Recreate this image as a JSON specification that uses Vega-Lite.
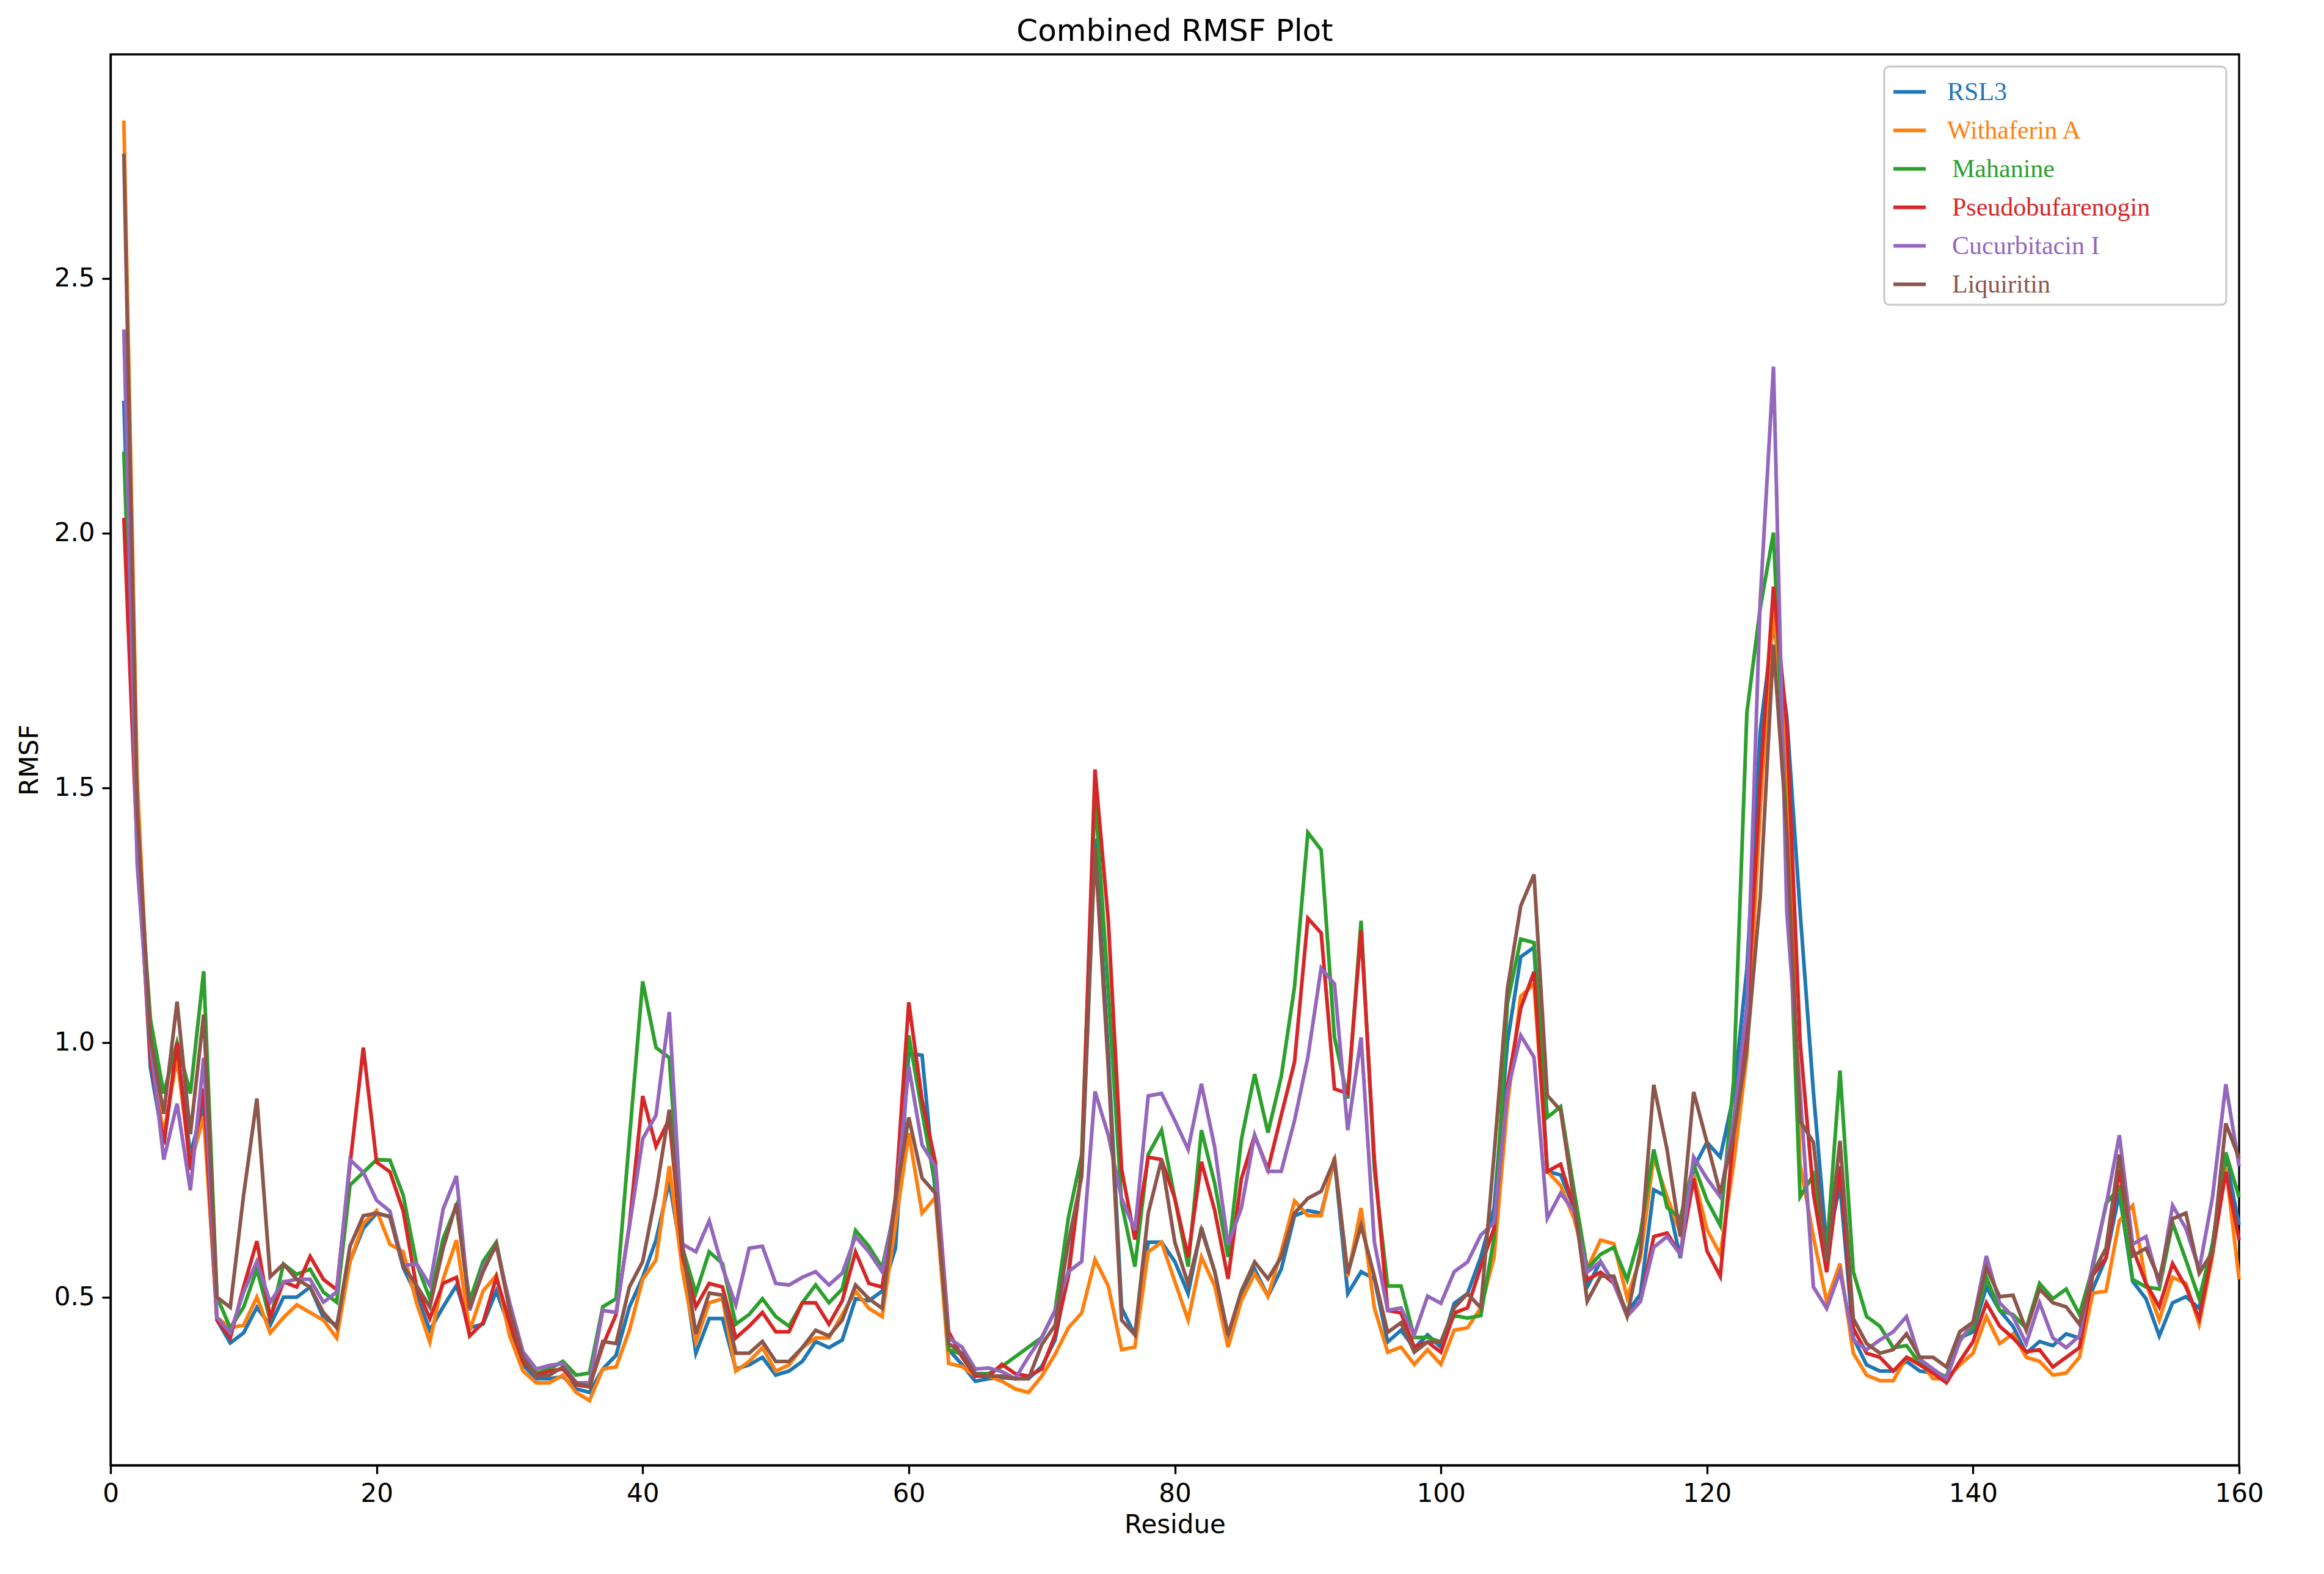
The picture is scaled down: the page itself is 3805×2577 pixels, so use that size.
{
  "$schema": "https://vega.github.io/schema/vega-lite/v6.json",
  "width": 3485,
  "height": 2310,
  "autosize": {"type": "none"},
  "padding": {"left": 181, "top": 89, "right": 139, "bottom": 178},
  "background": "white",
  "title": {"text": "Combined RMSF Plot", "fontSize": 50, "font": "DejaVu Sans", "fontWeight": "normal", "color": "black", "offset": 12, "anchor": "middle"},
  "datasets": {
    "RSL3": [
      {"r":1,"v":2.26},{"r":2,"v":1.42},{"r":3,"v":0.95},{"r":4,"v":0.80},{"r":5,"v":0.99},{"r":6,"v":0.78},{"r":7,"v":0.88},{"r":8,"v":0.455},{"r":9,"v":0.41},{"r":10,"v":0.43},
      {"r":11,"v":0.48},{"r":12,"v":0.445},{"r":13,"v":0.50},{"r":14,"v":0.50},{"r":15,"v":0.52},{"r":16,"v":0.46},{"r":17,"v":0.445},{"r":18,"v":0.57},{"r":19,"v":0.635},{"r":20,"v":0.665},
      {"r":21,"v":0.658},{"r":22,"v":0.558},{"r":23,"v":0.504},{"r":24,"v":0.435},{"r":25,"v":0.481},{"r":26,"v":0.523},{"r":27,"v":0.44},{"r":28,"v":0.447},{"r":29,"v":0.512},{"r":30,"v":0.44},
      {"r":31,"v":0.367},{"r":32,"v":0.34},{"r":33,"v":0.34},{"r":34,"v":0.344},{"r":35,"v":0.32},{"r":36,"v":0.313},{"r":37,"v":0.359},{"r":38,"v":0.386},{"r":39,"v":0.481},{"r":40,"v":0.539},
      {"r":41,"v":0.612},{"r":42,"v":0.727},{"r":43,"v":0.57},{"r":44,"v":0.39},{"r":45,"v":0.458},{"r":46,"v":0.458},{"r":47,"v":0.359},{"r":48,"v":0.367},{"r":49,"v":0.382},{"r":50,"v":0.347},
      {"r":51,"v":0.355},{"r":52,"v":0.374},{"r":53,"v":0.413},{"r":54,"v":0.401},{"r":55,"v":0.416},{"r":56,"v":0.497},{"r":57,"v":0.493},{"r":58,"v":0.512},{"r":59,"v":0.596},{"r":60,"v":0.979},
      {"r":61,"v":0.975},{"r":62,"v":0.704},{"r":63,"v":0.397},{"r":64,"v":0.368},{"r":65,"v":0.335},{"r":66,"v":0.34},{"r":67,"v":0.342},{"r":68,"v":0.34},{"r":69,"v":0.34},{"r":70,"v":0.364},
      {"r":71,"v":0.416},{"r":72,"v":0.55},{"r":73,"v":0.75},{"r":74,"v":1.40},{"r":75,"v":0.98},{"r":76,"v":0.479},{"r":77,"v":0.426},{"r":78,"v":0.608},{"r":79,"v":0.608},{"r":80,"v":0.57},
      {"r":81,"v":0.507},{"r":82,"v":0.637},{"r":83,"v":0.55},{"r":84,"v":0.426},{"r":85,"v":0.502},{"r":86,"v":0.555},{"r":87,"v":0.502},{"r":88,"v":0.555},{"r":89,"v":0.66},{"r":90,"v":0.67},
      {"r":91,"v":0.665},{"r":92,"v":0.77},{"r":93,"v":0.507},{"r":94,"v":0.55},{"r":95,"v":0.536},{"r":96,"v":0.412},{"r":97,"v":0.435},{"r":98,"v":0.40},{"r":99,"v":0.426},{"r":100,"v":0.402},
      {"r":101,"v":0.488},{"r":102,"v":0.507},{"r":103,"v":0.579},{"r":104,"v":0.675},{"r":105,"v":1.0},{"r":106,"v":1.168},{"r":107,"v":1.187},{"r":108,"v":0.747},{"r":109,"v":0.74},{"r":110,"v":0.676},
      {"r":111,"v":0.52},{"r":112,"v":0.57},{"r":113,"v":0.527},{"r":114,"v":0.47},{"r":115,"v":0.506},{"r":116,"v":0.711},{"r":117,"v":0.697},{"r":118,"v":0.577},{"r":119,"v":0.754},{"r":120,"v":0.804},
      {"r":121,"v":0.775},{"r":122,"v":0.896},{"r":123,"v":1.144},{"r":124,"v":1.611},{"r":125,"v":1.824},{"r":126,"v":1.64},{"r":127,"v":1.257},{"r":128,"v":0.903},{"r":129,"v":0.598},{"r":130,"v":0.72},
      {"r":131,"v":0.42},{"r":132,"v":0.367},{"r":133,"v":0.355},{"r":134,"v":0.355},{"r":135,"v":0.374},{"r":136,"v":0.355},{"r":137,"v":0.351},{"r":138,"v":0.34},{"r":139,"v":0.42},{"r":140,"v":0.432},
      {"r":141,"v":0.52},{"r":142,"v":0.474},{"r":143,"v":0.443},{"r":144,"v":0.39},{"r":145,"v":0.413},{"r":146,"v":0.405},{"r":147,"v":0.428},{"r":148,"v":0.42},{"r":149,"v":0.516},{"r":150,"v":0.577},
      {"r":151,"v":0.704},{"r":152,"v":0.531},{"r":153,"v":0.497},{"r":154,"v":0.424},{"r":155,"v":0.489},{"r":156,"v":0.501},{"r":157,"v":0.478},{"r":158,"v":0.604},{"r":159,"v":0.773},{"r":160,"v":0.642}
    ],
    "Withaferin A": [
      {"r":1,"v":2.81},{"r":2,"v":1.52},{"r":3,"v":0.97},{"r":4,"v":0.82},{"r":5,"v":0.97},{"r":6,"v":0.76},{"r":7,"v":0.855},{"r":8,"v":0.46},{"r":9,"v":0.44},{"r":10,"v":0.445},
      {"r":11,"v":0.50},{"r":12,"v":0.43},{"r":13,"v":0.46},{"r":14,"v":0.485},{"r":15,"v":0.47},{"r":16,"v":0.455},{"r":17,"v":0.42},{"r":18,"v":0.57},{"r":19,"v":0.645},{"r":20,"v":0.67},
      {"r":21,"v":0.604},{"r":22,"v":0.589},{"r":23,"v":0.489},{"r":24,"v":0.412},{"r":25,"v":0.535},{"r":26,"v":0.612},{"r":27,"v":0.435},{"r":28,"v":0.512},{"r":29,"v":0.543},{"r":30,"v":0.424},
      {"r":31,"v":0.355},{"r":32,"v":0.332},{"r":33,"v":0.332},{"r":34,"v":0.347},{"r":35,"v":0.313},{"r":36,"v":0.297},{"r":37,"v":0.359},{"r":38,"v":0.363},{"r":39,"v":0.435},{"r":40,"v":0.535},
      {"r":41,"v":0.573},{"r":42,"v":0.757},{"r":43,"v":0.55},{"r":44,"v":0.412},{"r":45,"v":0.489},{"r":46,"v":0.497},{"r":47,"v":0.355},{"r":48,"v":0.374},{"r":49,"v":0.401},{"r":50,"v":0.355},
      {"r":51,"v":0.367},{"r":52,"v":0.401},{"r":53,"v":0.42},{"r":54,"v":0.42},{"r":55,"v":0.466},{"r":56,"v":0.512},{"r":57,"v":0.478},{"r":58,"v":0.462},{"r":59,"v":0.642},{"r":60,"v":0.822},
      {"r":61,"v":0.665},{"r":62,"v":0.696},{"r":63,"v":0.37},{"r":64,"v":0.364},{"r":65,"v":0.345},{"r":66,"v":0.345},{"r":67,"v":0.335},{"r":68,"v":0.32},{"r":69,"v":0.313},{"r":70,"v":0.345},
      {"r":71,"v":0.388},{"r":72,"v":0.44},{"r":73,"v":0.469},{"r":74,"v":0.574},{"r":75,"v":0.522},{"r":76,"v":0.397},{"r":77,"v":0.402},{"r":78,"v":0.589},{"r":79,"v":0.608},{"r":80,"v":0.531},
      {"r":81,"v":0.455},{"r":82,"v":0.579},{"r":83,"v":0.522},{"r":84,"v":0.402},{"r":85,"v":0.493},{"r":86,"v":0.546},{"r":87,"v":0.502},{"r":88,"v":0.589},{"r":89,"v":0.689},{"r":90,"v":0.66},
      {"r":91,"v":0.66},{"r":92,"v":0.775},{"r":93,"v":0.541},{"r":94,"v":0.675},{"r":95,"v":0.479},{"r":96,"v":0.392},{"r":97,"v":0.402},{"r":98,"v":0.368},{"r":99,"v":0.397},{"r":100,"v":0.368},
      {"r":101,"v":0.435},{"r":102,"v":0.44},{"r":103,"v":0.479},{"r":104,"v":0.579},{"r":105,"v":0.876},{"r":106,"v":1.091},{"r":107,"v":1.115},{"r":108,"v":0.747},{"r":109,"v":0.719},{"r":110,"v":0.655},
      {"r":111,"v":0.556},{"r":112,"v":0.612},{"r":113,"v":0.605},{"r":114,"v":0.499},{"r":115,"v":0.577},{"r":116,"v":0.775},{"r":117,"v":0.697},{"r":118,"v":0.626},{"r":119,"v":0.74},{"r":120,"v":0.633},
      {"r":121,"v":0.584},{"r":122,"v":0.761},{"r":123,"v":0.974},{"r":124,"v":1.455},{"r":125,"v":1.852},{"r":126,"v":1.55},{"r":127,"v":0.761},{"r":128,"v":0.619},{"r":129,"v":0.492},{"r":130,"v":0.566},
      {"r":131,"v":0.39},{"r":132,"v":0.347},{"r":133,"v":0.336},{"r":134,"v":0.336},{"r":135,"v":0.382},{"r":136,"v":0.374},{"r":137,"v":0.34},{"r":138,"v":0.34},{"r":139,"v":0.367},{"r":140,"v":0.39},
      {"r":141,"v":0.462},{"r":142,"v":0.409},{"r":143,"v":0.428},{"r":144,"v":0.382},{"r":145,"v":0.374},{"r":146,"v":0.347},{"r":147,"v":0.351},{"r":148,"v":0.382},{"r":149,"v":0.508},{"r":150,"v":0.512},
      {"r":151,"v":0.65},{"r":152,"v":0.68},{"r":153,"v":0.527},{"r":154,"v":0.455},{"r":155,"v":0.539},{"r":156,"v":0.527},{"r":157,"v":0.447},{"r":158,"v":0.581},{"r":159,"v":0.757},{"r":160,"v":0.535}
    ],
    "Mahanine": [
      {"r":1,"v":2.16},{"r":2,"v":1.40},{"r":3,"v":1.045},{"r":4,"v":0.90},{"r":5,"v":1.0},{"r":6,"v":0.90},{"r":7,"v":1.14},{"r":8,"v":0.50},{"r":9,"v":0.44},{"r":10,"v":0.48},
      {"r":11,"v":0.555},{"r":12,"v":0.455},{"r":13,"v":0.565},{"r":14,"v":0.545},{"r":15,"v":0.555},{"r":16,"v":0.51},{"r":17,"v":0.49},{"r":18,"v":0.72},{"r":19,"v":0.745},{"r":20,"v":0.77},
      {"r":21,"v":0.769},{"r":22,"v":0.70},{"r":23,"v":0.566},{"r":24,"v":0.497},{"r":25,"v":0.615},{"r":26,"v":0.68},{"r":27,"v":0.493},{"r":28,"v":0.57},{"r":29,"v":0.608},{"r":30,"v":0.481},
      {"r":31,"v":0.39},{"r":32,"v":0.351},{"r":33,"v":0.359},{"r":34,"v":0.374},{"r":35,"v":0.347},{"r":36,"v":0.351},{"r":37,"v":0.481},{"r":38,"v":0.497},{"r":39,"v":0.811},{"r":40,"v":1.12},
      {"r":41,"v":0.99},{"r":42,"v":0.97},{"r":43,"v":0.596},{"r":44,"v":0.508},{"r":45,"v":0.589},{"r":46,"v":0.566},{"r":47,"v":0.447},{"r":48,"v":0.466},{"r":49,"v":0.497},{"r":50,"v":0.462},
      {"r":51,"v":0.443},{"r":52,"v":0.489},{"r":53,"v":0.524},{"r":54,"v":0.489},{"r":55,"v":0.516},{"r":56,"v":0.631},{"r":57,"v":0.60},{"r":58,"v":0.558},{"r":59,"v":0.68},{"r":60,"v":1.014},
      {"r":61,"v":0.864},{"r":62,"v":0.719},{"r":63,"v":0.397},{"r":64,"v":0.388},{"r":65,"v":0.35},{"r":66,"v":0.35},{"r":67,"v":0.364},{"r":68,"v":0.383},{"r":69,"v":0.402},{"r":70,"v":0.421},
      {"r":71,"v":0.474},{"r":72,"v":0.656},{"r":73,"v":0.78},{"r":74,"v":1.488},{"r":75,"v":1.10},{"r":76,"v":0.684},{"r":77,"v":0.56},{"r":78,"v":0.78},{"r":79,"v":0.828},{"r":80,"v":0.694},
      {"r":81,"v":0.56},{"r":82,"v":0.828},{"r":83,"v":0.723},{"r":84,"v":0.579},{"r":85,"v":0.809},{"r":86,"v":0.938},{"r":87,"v":0.823},{"r":88,"v":0.933},{"r":89,"v":1.11},{"r":90,"v":1.412},
      {"r":91,"v":1.378},{"r":92,"v":1.01},{"r":93,"v":0.89},{"r":94,"v":1.239},{"r":95,"v":0.751},{"r":96,"v":0.522},{"r":97,"v":0.522},{"r":98,"v":0.421},{"r":99,"v":0.421},{"r":100,"v":0.412},
      {"r":101,"v":0.464},{"r":102,"v":0.459},{"r":103,"v":0.464},{"r":104,"v":0.617},{"r":105,"v":1.077},{"r":106,"v":1.203},{"r":107,"v":1.196},{"r":108,"v":0.853},{"r":109,"v":0.874},{"r":110,"v":0.711},
      {"r":111,"v":0.556},{"r":112,"v":0.584},{"r":113,"v":0.598},{"r":114,"v":0.534},{"r":115,"v":0.626},{"r":116,"v":0.79},{"r":117,"v":0.676},{"r":118,"v":0.655},{"r":119,"v":0.761},{"r":120,"v":0.69},
      {"r":121,"v":0.641},{"r":122,"v":0.924},{"r":123,"v":1.647},{"r":124,"v":1.852},{"r":125,"v":2.001},{"r":126,"v":1.40},{"r":127,"v":0.697},{"r":128,"v":0.74},{"r":129,"v":0.591},{"r":130,"v":0.945},
      {"r":131,"v":0.55},{"r":132,"v":0.462},{"r":133,"v":0.443},{"r":134,"v":0.401},{"r":135,"v":0.405},{"r":136,"v":0.37},{"r":137,"v":0.355},{"r":138,"v":0.344},{"r":139,"v":0.42},{"r":140,"v":0.439},
      {"r":141,"v":0.539},{"r":142,"v":0.474},{"r":143,"v":0.466},{"r":144,"v":0.439},{"r":145,"v":0.527},{"r":146,"v":0.497},{"r":147,"v":0.516},{"r":148,"v":0.466},{"r":149,"v":0.558},{"r":150,"v":0.684},
      {"r":151,"v":0.715},{"r":152,"v":0.535},{"r":153,"v":0.52},{"r":154,"v":0.516},{"r":155,"v":0.646},{"r":156,"v":0.573},{"r":157,"v":0.497},{"r":158,"v":0.604},{"r":159,"v":0.784},{"r":160,"v":0.696}
    ],
    "Pseudobufarenogin": [
      {"r":1,"v":2.03},{"r":2,"v":1.38},{"r":3,"v":0.97},{"r":4,"v":0.80},{"r":5,"v":1.0},{"r":6,"v":0.75},{"r":7,"v":0.91},{"r":8,"v":0.455},{"r":9,"v":0.42},{"r":10,"v":0.52},
      {"r":11,"v":0.61},{"r":12,"v":0.46},{"r":13,"v":0.53},{"r":14,"v":0.52},{"r":15,"v":0.58},{"r":16,"v":0.535},{"r":17,"v":0.515},{"r":18,"v":0.76},{"r":19,"v":0.99},{"r":20,"v":0.765},
      {"r":21,"v":0.746},{"r":22,"v":0.669},{"r":23,"v":0.52},{"r":24,"v":0.458},{"r":25,"v":0.527},{"r":26,"v":0.539},{"r":27,"v":0.424},{"r":28,"v":0.45},{"r":29,"v":0.539},{"r":30,"v":0.45},
      {"r":31,"v":0.374},{"r":32,"v":0.347},{"r":33,"v":0.355},{"r":34,"v":0.359},{"r":35,"v":0.328},{"r":36,"v":0.324},{"r":37,"v":0.405},{"r":38,"v":0.466},{"r":39,"v":0.642},{"r":40,"v":0.895},
      {"r":41,"v":0.796},{"r":42,"v":0.85},{"r":43,"v":0.58},{"r":44,"v":0.481},{"r":45,"v":0.527},{"r":46,"v":0.52},{"r":47,"v":0.42},{"r":48,"v":0.443},{"r":49,"v":0.47},{"r":50,"v":0.432},
      {"r":51,"v":0.432},{"r":52,"v":0.489},{"r":53,"v":0.489},{"r":54,"v":0.447},{"r":55,"v":0.493},{"r":56,"v":0.589},{"r":57,"v":0.527},{"r":58,"v":0.52},{"r":59,"v":0.696},{"r":60,"v":1.079},
      {"r":61,"v":0.887},{"r":62,"v":0.765},{"r":63,"v":0.432},{"r":64,"v":0.383},{"r":65,"v":0.345},{"r":66,"v":0.345},{"r":67,"v":0.368},{"r":68,"v":0.35},{"r":69,"v":0.345},{"r":70,"v":0.359},
      {"r":71,"v":0.426},{"r":72,"v":0.541},{"r":73,"v":0.751},{"r":74,"v":1.536},{"r":75,"v":1.239},{"r":76,"v":0.751},{"r":77,"v":0.613},{"r":78,"v":0.775},{"r":79,"v":0.77},{"r":80,"v":0.694},
      {"r":81,"v":0.579},{"r":82,"v":0.766},{"r":83,"v":0.67},{"r":84,"v":0.536},{"r":85,"v":0.732},{"r":86,"v":0.818},{"r":87,"v":0.751},{"r":88,"v":0.857},{"r":89,"v":0.962},{"r":90,"v":1.244},
      {"r":91,"v":1.215},{"r":92,"v":0.909},{"r":93,"v":0.90},{"r":94,"v":1.22},{"r":95,"v":0.77},{"r":96,"v":0.474},{"r":97,"v":0.469},{"r":98,"v":0.402},{"r":99,"v":0.412},{"r":100,"v":0.392},
      {"r":101,"v":0.469},{"r":102,"v":0.479},{"r":103,"v":0.56},{"r":104,"v":0.636},{"r":105,"v":0.914},{"r":106,"v":1.067},{"r":107,"v":1.139},{"r":108,"v":0.747},{"r":109,"v":0.761},{"r":110,"v":0.676},
      {"r":111,"v":0.534},{"r":112,"v":0.549},{"r":113,"v":0.527},{"r":114,"v":0.463},{"r":115,"v":0.492},{"r":116,"v":0.619},{"r":117,"v":0.626},{"r":118,"v":0.584},{"r":119,"v":0.733},{"r":120,"v":0.591},
      {"r":121,"v":0.541},{"r":122,"v":0.818},{"r":123,"v":1.044},{"r":124,"v":1.512},{"r":125,"v":1.895},{"r":126,"v":1.625},{"r":127,"v":1.002},{"r":128,"v":0.704},{"r":129,"v":0.549},{"r":130,"v":0.757},
      {"r":131,"v":0.439},{"r":132,"v":0.39},{"r":133,"v":0.382},{"r":134,"v":0.355},{"r":135,"v":0.382},{"r":136,"v":0.367},{"r":137,"v":0.351},{"r":138,"v":0.332},{"r":139,"v":0.374},{"r":140,"v":0.413},
      {"r":141,"v":0.489},{"r":142,"v":0.443},{"r":143,"v":0.42},{"r":144,"v":0.393},{"r":145,"v":0.397},{"r":146,"v":0.363},{"r":147,"v":0.382},{"r":148,"v":0.401},{"r":149,"v":0.543},{"r":150,"v":0.577},
      {"r":151,"v":0.75},{"r":152,"v":0.596},{"r":153,"v":0.527},{"r":154,"v":0.481},{"r":155,"v":0.566},{"r":156,"v":0.52},{"r":157,"v":0.458},{"r":158,"v":0.589},{"r":159,"v":0.746},{"r":160,"v":0.612}
    ],
    "Cucurbitacin I": [
      {"r":1,"v":2.40},{"r":2,"v":1.35},{"r":3,"v":1.0},{"r":4,"v":0.77},{"r":5,"v":0.88},{"r":6,"v":0.71},{"r":7,"v":0.97},{"r":8,"v":0.46},{"r":9,"v":0.43},{"r":10,"v":0.51},
      {"r":11,"v":0.57},{"r":12,"v":0.49},{"r":13,"v":0.53},{"r":14,"v":0.535},{"r":15,"v":0.535},{"r":16,"v":0.49},{"r":17,"v":0.51},{"r":18,"v":0.77},{"r":19,"v":0.745},{"r":20,"v":0.69},
      {"r":21,"v":0.669},{"r":22,"v":0.562},{"r":23,"v":0.566},{"r":24,"v":0.523},{"r":25,"v":0.673},{"r":26,"v":0.738},{"r":27,"v":0.474},{"r":28,"v":0.558},{"r":29,"v":0.60},{"r":30,"v":0.489},
      {"r":31,"v":0.393},{"r":32,"v":0.359},{"r":33,"v":0.366},{"r":34,"v":0.37},{"r":35,"v":0.332},{"r":36,"v":0.332},{"r":37,"v":0.474},{"r":38,"v":0.47},{"r":39,"v":0.638},{"r":40,"v":0.811},
      {"r":41,"v":0.857},{"r":42,"v":1.06},{"r":43,"v":0.604},{"r":44,"v":0.589},{"r":45,"v":0.65},{"r":46,"v":0.558},{"r":47,"v":0.485},{"r":48,"v":0.596},{"r":49,"v":0.60},{"r":50,"v":0.527},
      {"r":51,"v":0.524},{"r":52,"v":0.539},{"r":53,"v":0.55},{"r":54,"v":0.524},{"r":55,"v":0.547},{"r":56,"v":0.619},{"r":57,"v":0.589},{"r":58,"v":0.55},{"r":59,"v":0.68},{"r":60,"v":0.953},
      {"r":61,"v":0.799},{"r":62,"v":0.757},{"r":63,"v":0.42},{"r":64,"v":0.402},{"r":65,"v":0.359},{"r":66,"v":0.361},{"r":67,"v":0.354},{"r":68,"v":0.34},{"r":69,"v":0.383},{"r":70,"v":0.421},
      {"r":71,"v":0.474},{"r":72,"v":0.55},{"r":73,"v":0.57},{"r":74,"v":0.904},{"r":75,"v":0.818},{"r":76,"v":0.694},{"r":77,"v":0.632},{"r":78,"v":0.895},{"r":79,"v":0.90},{"r":80,"v":0.847},
      {"r":81,"v":0.79},{"r":82,"v":0.919},{"r":83,"v":0.794},{"r":84,"v":0.603},{"r":85,"v":0.675},{"r":86,"v":0.818},{"r":87,"v":0.747},{"r":88,"v":0.747},{"r":89,"v":0.847},{"r":90,"v":0.971},
      {"r":91,"v":1.146},{"r":92,"v":1.115},{"r":93,"v":0.828},{"r":94,"v":1.01},{"r":95,"v":0.608},{"r":96,"v":0.474},{"r":97,"v":0.479},{"r":98,"v":0.426},{"r":99,"v":0.502},{"r":100,"v":0.488},
      {"r":101,"v":0.55},{"r":102,"v":0.569},{"r":103,"v":0.622},{"r":104,"v":0.646},{"r":105,"v":0.904},{"r":106,"v":1.014},{"r":107,"v":0.971},{"r":108,"v":0.655},{"r":109,"v":0.704},{"r":110,"v":0.669},
      {"r":111,"v":0.549},{"r":112,"v":0.57},{"r":113,"v":0.527},{"r":114,"v":0.463},{"r":115,"v":0.492},{"r":116,"v":0.598},{"r":117,"v":0.619},{"r":118,"v":0.584},{"r":119,"v":0.775},{"r":120,"v":0.733},
      {"r":121,"v":0.697},{"r":122,"v":0.846},{"r":123,"v":1.073},{"r":124,"v":1.866},{"r":125,"v":2.327},{"r":126,"v":1.257},{"r":127,"v":0.903},{"r":128,"v":0.52},{"r":129,"v":0.478},{"r":130,"v":0.55},
      {"r":131,"v":0.416},{"r":132,"v":0.397},{"r":133,"v":0.416},{"r":134,"v":0.432},{"r":135,"v":0.462},{"r":136,"v":0.378},{"r":137,"v":0.359},{"r":138,"v":0.34},{"r":139,"v":0.413},{"r":140,"v":0.451},
      {"r":141,"v":0.581},{"r":142,"v":0.489},{"r":143,"v":0.462},{"r":144,"v":0.409},{"r":145,"v":0.489},{"r":146,"v":0.42},{"r":147,"v":0.401},{"r":148,"v":0.424},{"r":149,"v":0.566},{"r":150,"v":0.68},
      {"r":151,"v":0.818},{"r":152,"v":0.604},{"r":153,"v":0.619},{"r":154,"v":0.524},{"r":155,"v":0.68},{"r":156,"v":0.635},{"r":157,"v":0.554},{"r":158,"v":0.696},{"r":159,"v":0.918},{"r":160,"v":0.757}
    ],
    "Liquiritin": [
      {"r":1,"v":2.745},{"r":2,"v":1.46},{"r":3,"v":1.01},{"r":4,"v":0.86},{"r":5,"v":1.08},{"r":6,"v":0.82},{"r":7,"v":1.055},{"r":8,"v":0.50},{"r":9,"v":0.48},{"r":10,"v":0.70},
      {"r":11,"v":0.89},{"r":12,"v":0.54},{"r":13,"v":0.565},{"r":14,"v":0.535},{"r":15,"v":0.52},{"r":16,"v":0.47},{"r":17,"v":0.44},{"r":18,"v":0.60},{"r":19,"v":0.66},{"r":20,"v":0.665},
      {"r":21,"v":0.658},{"r":22,"v":0.562},{"r":23,"v":0.523},{"r":24,"v":0.481},{"r":25,"v":0.596},{"r":26,"v":0.684},{"r":27,"v":0.478},{"r":28,"v":0.55},{"r":29,"v":0.604},{"r":30,"v":0.474},
      {"r":31,"v":0.382},{"r":32,"v":0.344},{"r":33,"v":0.347},{"r":34,"v":0.363},{"r":35,"v":0.332},{"r":36,"v":0.324},{"r":37,"v":0.413},{"r":38,"v":0.409},{"r":39,"v":0.52},{"r":40,"v":0.57},
      {"r":41,"v":0.704},{"r":42,"v":0.868},{"r":43,"v":0.60},{"r":44,"v":0.428},{"r":45,"v":0.508},{"r":46,"v":0.504},{"r":47,"v":0.39},{"r":48,"v":0.39},{"r":49,"v":0.413},{"r":50,"v":0.374},
      {"r":51,"v":0.374},{"r":52,"v":0.401},{"r":53,"v":0.435},{"r":54,"v":0.424},{"r":55,"v":0.455},{"r":56,"v":0.524},{"r":57,"v":0.497},{"r":58,"v":0.478},{"r":59,"v":0.696},{"r":60,"v":0.853},
      {"r":61,"v":0.734},{"r":62,"v":0.704},{"r":63,"v":0.409},{"r":64,"v":0.39},{"r":65,"v":0.35},{"r":66,"v":0.345},{"r":67,"v":0.345},{"r":68,"v":0.34},{"r":69,"v":0.34},{"r":70,"v":0.407},
      {"r":71,"v":0.445},{"r":72,"v":0.608},{"r":73,"v":0.737},{"r":74,"v":1.383},{"r":75,"v":0.95},{"r":76,"v":0.455},{"r":77,"v":0.426},{"r":78,"v":0.665},{"r":79,"v":0.77},{"r":80,"v":0.608},
      {"r":81,"v":0.526},{"r":82,"v":0.632},{"r":83,"v":0.55},{"r":84,"v":0.426},{"r":85,"v":0.512},{"r":86,"v":0.569},{"r":87,"v":0.536},{"r":88,"v":0.579},{"r":89,"v":0.665},{"r":90,"v":0.694},
      {"r":91,"v":0.708},{"r":92,"v":0.77},{"r":93,"v":0.546},{"r":94,"v":0.641},{"r":95,"v":0.541},{"r":96,"v":0.431},{"r":97,"v":0.45},{"r":98,"v":0.392},{"r":99,"v":0.412},{"r":100,"v":0.412},
      {"r":101,"v":0.479},{"r":102,"v":0.507},{"r":103,"v":0.479},{"r":104,"v":0.78},{"r":105,"v":1.105},{"r":106,"v":1.268},{"r":107,"v":1.33},{"r":108,"v":0.896},{"r":109,"v":0.867},{"r":110,"v":0.69},
      {"r":111,"v":0.492},{"r":112,"v":0.541},{"r":113,"v":0.541},{"r":114,"v":0.463},{"r":115,"v":0.591},{"r":116,"v":0.917},{"r":117,"v":0.79},{"r":118,"v":0.619},{"r":119,"v":0.903},{"r":120,"v":0.804},
      {"r":121,"v":0.704},{"r":122,"v":0.818},{"r":123,"v":0.988},{"r":124,"v":1.285},{"r":125,"v":1.781},{"r":126,"v":1.413},{"r":127,"v":0.846},{"r":128,"v":0.804},{"r":129,"v":0.57},{"r":130,"v":0.807},
      {"r":131,"v":0.458},{"r":132,"v":0.409},{"r":133,"v":0.39},{"r":134,"v":0.397},{"r":135,"v":0.428},{"r":136,"v":0.382},{"r":137,"v":0.382},{"r":138,"v":0.363},{"r":139,"v":0.432},{"r":140,"v":0.451},
      {"r":141,"v":0.558},{"r":142,"v":0.501},{"r":143,"v":0.504},{"r":144,"v":0.435},{"r":145,"v":0.516},{"r":146,"v":0.489},{"r":147,"v":0.481},{"r":148,"v":0.447},{"r":149,"v":0.547},{"r":150,"v":0.596},
      {"r":151,"v":0.78},{"r":152,"v":0.581},{"r":153,"v":0.596},{"r":154,"v":0.535},{"r":155,"v":0.654},{"r":156,"v":0.665},{"r":157,"v":0.547},{"r":158,"v":0.589},{"r":159,"v":0.841},{"r":160,"v":0.773}
    ]
  },
  "encoding": {
    "x": {
      "field": "r",
      "type": "quantitative",
      "scale": {"domain": [0, 160], "nice": false, "zero": false},
      "axis": {"title": "Residue", "values": [0, 20, 40, 60, 80, 100, 120, 140, 160], "format": "d", "labelFlush": false, "titlePadding": 10}
    },
    "y": {
      "field": "v",
      "type": "quantitative",
      "scale": {"domain": [0.17, 2.94], "nice": false, "zero": false},
      "axis": {"title": "RMSF", "values": [0.5, 1.0, 1.5, 2.0, 2.5], "format": ".1f", "titlePadding": 18}
    }
  },
  "layer": [
    {
      "data": {"name": "RSL3"},
      "mark": {"type": "line", "strokeWidth": 6},
      "encoding": {
        "color": {
          "datum": "RSL3",
          "type": "nominal",
          "scale": {
            "domain": ["RSL3", "Withaferin A", "Mahanine", "Pseudobufarenogin", "Cucurbitacin I", "Liquiritin"],
            "range": ["#1f77b4", "#ff7f0e", "#2ca02c", "#d62728", "#9467bd", "#8c564b"]
          },
          "legend": {
            "title": "MMM",
            "titleOrient": "right",
            "titleFont": "Liberation Serif",
            "titleFontSize": 42,
            "titleFontWeight": "normal",
            "titleOpacity": 0,
            "titlePadding": 0,
            "orient": "none",
            "legendX": 2904,
            "legendY": 20,
            "encode": {
              "labels": {
                "update": {
                  "fill": {"scale": "color", "field": "value"},
                  "dx": [{"test": "datum.value === 'RSL3' || datum.value === 'Withaferin A'", "value": 0}, {"value": 8}]
                }
              }
            }
          }
        }
      }
    },
    {"data": {"name": "Withaferin A"}, "mark": {"type": "line", "strokeWidth": 6}, "encoding": {"color": {"datum": "Withaferin A", "type": "nominal"}}},
    {"data": {"name": "Mahanine"}, "mark": {"type": "line", "strokeWidth": 6}, "encoding": {"color": {"datum": "Mahanine", "type": "nominal"}}},
    {"data": {"name": "Pseudobufarenogin"}, "mark": {"type": "line", "strokeWidth": 6}, "encoding": {"color": {"datum": "Pseudobufarenogin", "type": "nominal"}}},
    {"data": {"name": "Cucurbitacin I"}, "mark": {"type": "line", "strokeWidth": 6}, "encoding": {"color": {"datum": "Cucurbitacin I", "type": "nominal"}}},
    {"data": {"name": "Liquiritin"}, "mark": {"type": "line", "strokeWidth": 6}, "encoding": {"color": {"datum": "Liquiritin", "type": "nominal"}}}
  ],
  "config": {
    "view": {"stroke": "black", "strokeWidth": 3.3},
    "axis": {
      "grid": false,
      "labelFont": "DejaVu Sans",
      "titleFont": "DejaVu Sans",
      "labelFontSize": 42,
      "titleFontSize": 42,
      "titleFontWeight": "normal",
      "labelColor": "black",
      "titleColor": "black",
      "domainColor": "black",
      "domainWidth": 3.3,
      "tickColor": "black",
      "tickWidth": 3.3,
      "tickSize": 14,
      "labelPadding": 12
    },
    "legend": {
      "fillColor": "white",
      "strokeColor": "#cccccc",
      "strokeWidth": 3.3,
      "cornerRadius": 8,
      "padding": 12,
      "symbolType": "stroke",
      "symbolSize": 2800,
      "symbolStrokeWidth": 6,
      "labelFont": "Liberation Serif",
      "labelFontSize": 42,
      "labelOffset": 32,
      "rowPadding": 12,
      "labelLimit": 700
    }
  }
}
